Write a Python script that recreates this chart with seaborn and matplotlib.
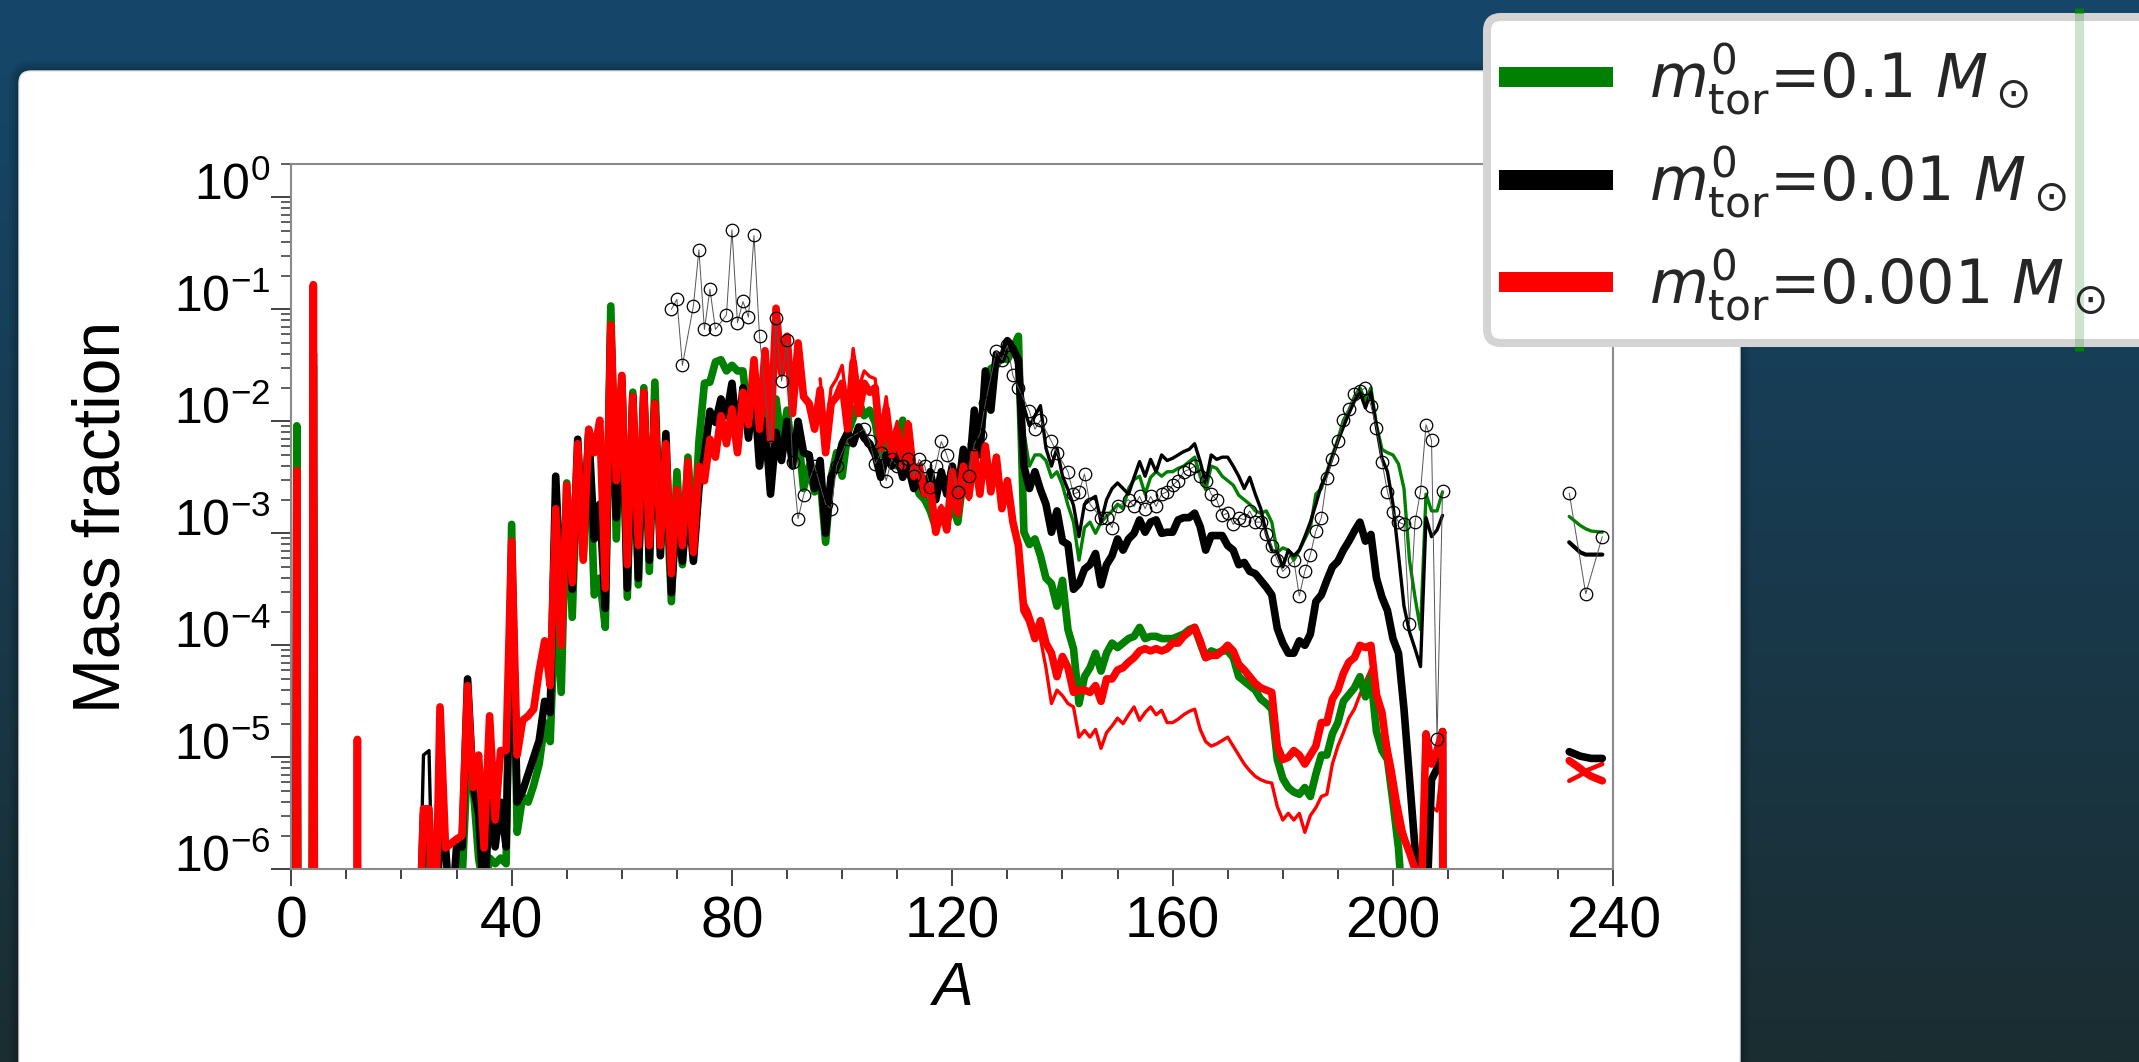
import numpy as np
import pandas as pd
import matplotlib
matplotlib.use("Agg")
import matplotlib.pyplot as plt
import seaborn as sns
import matplotlib.transforms as mtransforms
from matplotlib.patches import FancyBboxPatch
from matplotlib.lines import Line2D
from matplotlib.font_manager import FontProperties
from matplotlib.ticker import FixedLocator, MultipleLocator, NullFormatter

# ---------------------------------------------------------------- data
# mass number grid of the network output
mass_number = list(range(0, 211))

# log10 of the mass fraction; -30 / -7 mark nuclei that are (practically) absent
logX_01 = [  # m_tor = 0.1 Msun (thick green)
    -30, -2.04, -30, -30, -1.5, -30, -30, -30, -30, -30,
    -30, -30, -30, -30, -30, -30, -30, -30, -30, -30,
    -30, -30, -30, -7, -5.7, -5.75, -7, -7, -7, -7,
    -5.9, -6.1, -5.0, -5.25, -5.9, -6.2, -5.9, -5.95, -5.9, -5.95,
    -2.92, -5.67, -5.35, -5.4, -5.25, -5.06, -4.69, -4.86, -3.5, -4.42,
    -2.55, -3.75, -2.3, -3.0, -2.1, -3.55, -3.4, -3.84, -0.97, -3.05,
    -1.6, -3.57, -1.74, -3.46, -1.7, -3.34, -1.65, -3.11, -2.5, -3.61,
    -2.45, -3.28, -2.32, -3.1, -2.18, -1.66, -1.65, -1.47, -1.45, -1.55,
    -1.5, -1.55, -1.55, -2.0, -1.65, -2.0, -1.9, -2.6, -1.8, -2.2,
    -1.9, -2.3, -2.1, -2.6, -2.4, -2.63, -2.5, -3.08, -2.5, -2.28,
    -2.49, -2.11, -1.97, -1.82, -1.95, -1.9, -2.01, -2.3, -2.1, -2.3,
    -2.4, -1.99, -2.4, -2.5, -2.65, -2.7, -2.8, -2.95, -2.85, -2.9,
    -2.75, -2.9, -2.5, -2.4, -2.3, -2.2, -1.74, -1.53, -1.5, -1.41,
    -1.45, -1.35, -1.24, -2.99, -3.1, -3.05, -3.2, -3.4, -3.45, -3.65,
    -3.42, -3.86, -4.03, -4.52, -4.28, -4.2, -4.07, -4.23, -4.07, -3.98,
    -4.02, -3.98, -3.94, -3.92, -3.84, -3.94, -3.92, -3.92, -3.94, -3.94,
    -3.94, -3.92, -3.9, -3.86, -3.84, -3.98, -4.11, -4.05, -4.07, -4.05,
    -4.05, -4.11, -4.28, -4.32, -4.36, -4.4, -4.48, -4.52, -4.57, -5.02,
    -5.19, -5.27, -5.31, -5.33, -5.27, -5.35, -5.15, -4.98, -4.98, -4.79,
    -4.69, -4.5, -4.44, -4.38, -4.28, -4.46, -4.28, -4.77, -4.94, -5.02,
    -5.4, -5.81, -6.5, -7, -7, -7, -7, -7, -7, -7, -30,
]

logX_001 = [  # m_tor = 0.01 Msun (thick black)
    -30, -2.6, -30, -30, -1.39, -30, -30, -30, -30, -30,
    -30, -30, -30, -30, -30, -30, -30, -30, -30, -30,
    -30, -30, -30, -7, -5.5, -5.5, -7, -5.6, -5.8, -6.5,
    -5.8, -5.8, -4.3, -5.25, -5.5, -6.3, -5.4, -5.8, -5.4, -5.8,
    -3.2, -5.4, -5.3, -5.15, -5.0, -4.85, -4.5, -4.6, -2.49, -3.6,
    -2.75, -3.5, -2.16, -3.2, -2.1, -3.05, -2.74, -3.67, -1.2, -2.86,
    -1.65, -3.49, -1.78, -3.4, -1.75, -3.24, -1.84, -3.2, -2.11, -3.53,
    -2.8, -3.25, -2.7, -3.25, -2.6, -2.3, -1.91, -2.01, -1.8, -1.95,
    -1.66, -2.16, -1.7, -2.15, -1.7, -2.4, -2.0, -2.65, -2.1, -2.35,
    -2.0, -2.4, -2.0, -2.28, -2.3, -2.6, -2.35, -3.0, -2.5, -2.4,
    -2.2, -2.1, -2.2, -2.05, -2.15, -2.2, -2.3, -2.5, -2.3, -2.4,
    -2.3, -2.5, -2.4, -2.6, -2.5, -2.65, -2.45, -2.7, -2.45, -2.65,
    -2.4, -2.65, -2.25, -2.5, -1.9, -2.3, -1.55, -1.9, -1.4, -1.45,
    -1.28, -1.35, -1.45, -2.4, -2.6, -2.45, -2.61, -2.74, -2.99, -2.8,
    -3.07, -3.1, -3.5, -3.45, -3.32, -3.28, -3.18, -3.46, -3.28, -3.2,
    -3.05, -3.15, -3.05, -3.0, -2.88, -2.99, -2.9, -2.88, -3.0, -2.99,
    -2.99, -2.88, -2.86, -2.86, -2.82, -2.94, -3.15, -3.02, -3.02, -3.02,
    -3.11, -3.15, -3.28, -3.26, -3.34, -3.36, -3.42, -3.48, -3.55, -3.85,
    -3.98, -4.07, -4.07, -3.96, -4.0, -3.9, -3.61, -3.55, -3.42, -3.3,
    -3.25, -3.15, -3.07, -2.98, -2.9, -3.07, -3.01, -3.4, -3.57, -3.69,
    -3.94, -4.07, -4.57, -5.19, -5.81, -6.5, -6.5, -5.2, -5.1, -4.77, -30,
]

logX_0001 = [  # m_tor = 0.001 Msun (thick red)
    -30, -2.44, -30, -30, -0.78, -30, -30, -30, -30, -30,
    -30, -30, -4.84, -30, -30, -30, -30, -30, -30, -30,
    -30, -30, -30, -7, -5.46, -5.46, -7, -4.55, -5.81, -5.77,
    -5.73, -5.7, -4.36, -5.27, -4.98, -5.81, -4.63, -5.56, -4.94, -4.94,
    -3.07, -4.98, -4.67, -4.63, -4.57, -4.23, -3.96, -4.36, -2.78, -4.0,
    -2.57, -3.44, -2.2, -3.24, -2.07, -2.28, -1.99, -3.49, -1.14, -2.53,
    -1.59, -3.28, -1.78, -3.11, -1.74, -3.11, -1.84, -3.11, -2.2, -3.36,
    -2.61, -3.11, -2.36, -3.17, -2.4, -2.53, -2.16, -2.32, -1.95, -2.2,
    -1.89, -2.28, -1.74, -2.03, -1.45, -2.07, -1.37, -2.16, -0.99, -1.57,
    -1.24, -1.93, -1.3, -1.78, -1.84, -2.07, -1.72, -2.28, -1.84, -1.78,
    -1.66, -2.07, -1.47, -1.93, -1.66, -1.74, -1.7, -2.24, -1.89, -2.3,
    -2.07, -2.4, -2.03, -2.49, -2.4, -2.65, -2.57, -2.99, -2.78, -2.97,
    -2.45, -2.82, -2.4, -2.67, -2.28, -2.65, -2.22, -2.63, -2.32, -2.78,
    -2.53, -2.9, -3.11, -3.69, -3.78, -3.94, -3.78, -3.98, -4.07, -4.28,
    -4.1, -4.2, -4.42, -4.4, -4.4, -4.42, -4.36, -4.5, -4.3, -4.3,
    -4.22, -4.2, -4.15, -4.11, -4.05, -4.03, -4.05, -4.03, -4.05, -4.03,
    -3.98, -3.98, -3.92, -3.88, -3.84, -3.96, -4.11, -4.09, -4.09, -4.05,
    -4.0, -4.05, -4.17, -4.22, -4.28, -4.34, -4.38, -4.4, -4.42, -4.9,
    -5.02, -5.0, -4.94, -4.98, -5.06, -4.98, -4.9, -4.69, -4.69, -4.48,
    -4.4, -4.25, -4.15, -4.11, -4.0, -4.02, -4.0, -4.44, -4.6, -4.98,
    -5.27, -5.6, -5.72, -5.85, -6.0, -6.5, -4.79, -5.06, -4.94, -4.77, -30,
]

# second (thin) set of curves
thin_black_low_A = [23, 24, 25, 26]
thin_black_low = [-7, -4.98, -4.94, -7]

thin_gk_A = list(range(126, 210))
thin_green = [
    -1.74, -1.53, -1.5, -1.41,
    -1.45, -1.35, -1.3, -2.1, -2.4, -2.3, -2.3, -2.35, -2.5, -2.45,
    -2.57, -2.75, -2.9, -3.24, -2.95, -2.9, -3.0, -2.9, -2.85, -2.8,
    -2.74, -2.78, -2.6, -2.52, -2.49, -2.65, -2.5, -2.45, -2.49, -2.45,
    -2.45, -2.42, -2.4, -2.36, -2.32, -2.49, -2.61, -2.4, -2.42, -2.49,
    -2.53, -2.57, -2.66, -2.7, -2.74, -2.8, -2.82, -2.8, -2.9, -3.17,
    -3.13, -3.15, -3.24, -3.15, -3.05, -2.95, -2.65, -2.6, -2.45, -2.3,
    -2.16, -1.99, -1.9, -1.78, -1.7, -1.82, -1.7, -2.03, -2.25, -2.28,
    -2.3, -2.38, -2.6, -3.24, -3.57, -3.86, -2.65, -2.8, -2.8, -2.63,
]
thin_black = [
    -1.55, -1.9, -1.4, -1.45,
    -1.28, -1.35, -1.55, -1.87, -2.04, -1.95, -1.86, -2.24, -2.4, -2.24,
    -2.49, -2.61, -2.75, -3.03, -2.74, -2.7, -2.67, -2.9, -2.7, -2.6,
    -2.55, -2.6, -2.65, -2.5, -2.36, -2.49, -2.34, -2.45, -2.3, -2.35,
    -2.33, -2.3, -2.27, -2.25, -2.2, -2.36, -2.55, -2.3, -2.34, -2.32,
    -2.32, -2.4, -2.49, -2.6, -2.5, -2.65, -2.78, -3.0, -3.15, -3.17,
    -3.3, -3.15, -3.2, -3.15, -3.03, -2.9, -2.74, -2.57, -2.47, -2.32,
    -2.18, -2.05, -1.93, -1.82, -1.74, -1.88, -1.74, -2.05, -2.33, -2.45,
    -2.74, -3.19, -3.65, -3.88, -4.03, -4.19, -2.86, -3.03, -2.97, -2.84,
]

thin_red_A = list(range(96, 210))
thin_red = [
    -1.62, -2.1, -1.7, -1.62,
    -1.5, -1.9, -1.35, -1.7, -1.55, -1.6, -1.62, -2.1, -1.78, -2.2,
    -2.0, -2.3, -2.0, -2.45, -2.4, -2.62, -2.55, -2.95, -2.75, -2.95,
    -2.5, -2.8, -2.45, -2.7, -2.35, -2.6, -2.3, -2.6, -2.4, -2.7,
    -2.6, -2.85, -3.2, -3.6, -3.7, -3.85, -3.94, -4.2, -4.52, -4.4,
    -4.45, -4.52, -4.55, -4.82, -4.76, -4.82, -4.75, -4.92, -4.78, -4.72,
    -4.65, -4.7, -4.62, -4.55, -4.67, -4.6, -4.55, -4.62, -4.58, -4.69,
    -4.69, -4.66, -4.62, -4.59, -4.57, -4.75, -4.86, -4.9, -4.88, -4.85,
    -4.82, -4.9, -4.98, -5.06, -5.12, -5.17, -5.2, -5.22, -5.23, -5.44,
    -5.56, -5.5, -5.56, -5.5, -5.67, -5.52, -5.45, -5.35, -5.33, -5.06,
    -4.9, -4.78, -4.65, -4.57, -4.44, -4.32, -4.21, -4.4, -4.69, -4.85,
    -5.1, -5.4, -5.65, -5.85, -5.98, -6.4, -5.31, -5.44, -5.48, -5.04,
]

# actinides
actinide_A = [232, 234, 235, 236, 238]
act_thin_green = [-2.85, -2.93, -2.96, -2.98, -2.99]
act_thin_black = [-3.08, -3.17, -3.19, -3.19, -3.19]
act_black = [-4.95, -4.99, -5.0, -5.01, -5.01]
act_red = [-5.03, -5.1, -5.14, -5.17, -5.21]
act_thin_red = [-5.21, -5.16, -5.12, -5.1, -5.06]

# solar r-process abundances (A, log10 X)
solar_points = [
    (69, -1.00), (70, -0.91), (71, -1.50), (73, -0.97), (74, -0.47), (75, -1.18),
    (76, -0.82), (77, -1.18), (79, -1.05), (80, -0.29), (81, -1.12), (82, -0.93),
    (83, -1.07), (84, -0.34), (85, -1.24), (87, -2.23), (88, -1.08), (89, -1.64),
    (90, -1.27), (91, -2.36), (92, -2.87), (93, -2.66), (95, -2.40), (97, -2.74),
    (98, -2.78), (99, -2.40), (101, -2.16), (104, -2.07), (105, -2.18), (106, -2.38),
    (107, -2.28), (108, -2.53), (109, -2.34), (110, -2.40), (111, -2.40), (112, -2.34),
    (113, -2.49), (114, -2.34), (115, -2.40), (116, -2.59), (117, -2.40), (118, -2.18),
    (119, -2.30), (121, -2.63), (123, -2.49), (124, -2.20), (125, -2.12), (126, -1.84),
    (128, -1.37), (129, -1.45), (130, -1.32), (131, -1.59), (132, -1.70), (134, -1.91),
    (135, -2.07), (136, -1.99), (138, -2.18), (139, -2.28), (141, -2.45), (142, -2.65),
    (143, -2.63), (144, -2.47), (145, -2.74), (147, -2.86), (148, -2.86), (149, -2.95),
    (150, -2.76), (152, -2.70), (153, -2.76), (154, -2.67), (155, -2.78), (156, -2.67),
    (157, -2.76), (158, -2.65), (159, -2.63), (160, -2.57), (161, -2.53), (162, -2.45),
    (163, -2.43), (164, -2.40), (165, -2.49), (166, -2.53), (167, -2.65), (168, -2.70),
    (169, -2.84), (170, -2.82), (171, -2.92), (172, -2.86), (173, -2.88), (174, -2.80),
    (175, -2.90), (176, -2.90), (177, -3.01), (178, -3.11), (179, -3.24), (180, -3.34),
    (182, -3.24), (183, -3.56), (184, -3.34), (185, -3.19), (186, -2.98), (187, -2.86),
    (188, -2.51), (189, -2.34), (190, -2.18), (191, -1.99), (192, -1.89), (193, -1.76),
    (194, -1.73), (195, -1.70), (196, -1.86), (197, -2.06), (198, -2.36), (199, -2.63),
    (200, -2.81), (201, -2.90), (202, -2.92), (203, -3.81), (204, -2.90), (205, -2.63),
    (206, -2.03), (207, -2.17), (208, -4.84), (209, -2.62),
]
solar_actinides = [(232, -2.64), (235, -3.54), (238, -3.03)]

legend_labels = [
    r"$m^{0}_{\rm tor}$=0.1 $M_\odot$",
    r"$m^{0}_{\rm tor}$=0.01 $M_\odot$",
    r"$m^{0}_{\rm tor}$=0.001 $M_\odot$",
]
y_tick_exponents = [-6, -5, -4, -3, -2, -1, 0]
y_tick_labels = [r"$\mathregular{10^{-6}}$", r"$\mathregular{10^{-5}}$",
                 r"$\mathregular{10^{-4}}$", r"$\mathregular{10^{-3}}$",
                 r"$\mathregular{10^{-2}}$", r"$\mathregular{10^{-1}}$",
                 r"$\mathregular{10^{0}}$"]

# ---------------------------------------------------------------- style
sns.set_theme(style="white")
plt.rcParams["font.family"] = ["Liberation Sans", "DejaVu Sans"]
plt.rcParams["mathtext.fontset"] = "custom"
plt.rcParams["mathtext.rm"] = "Liberation Sans"
plt.rcParams["mathtext.it"] = "Liberation Sans:italic"
plt.rcParams["mathtext.bf"] = "Liberation Sans:bold"

GREEN, BLACK, RED = "#008000", "#000000", "#ff0000"
THICK, THIN = 5.5, 2.4

W, H = 2139, 1062
fig = plt.figure(figsize=(W / 100, H / 100), dpi=100)
ident = mtransforms.IdentityTransform()

# slide background
bg = fig.add_axes([0, 0, 1, 1], zorder=-10)
c_top = np.array([0x15, 0x47, 0x6b]) / 255
c_bot = np.array([0x1b, 0x2d, 0x31]) / 255
tt = np.linspace(0, 1, 256)[:, None]
grad = c_top[None, :] * (1 - tt) + c_bot[None, :] * tt
bg.imshow(grad[:, None, :], aspect="auto", extent=[0, 1, 0, 1], interpolation="bilinear")
bg.set_axis_off()

# white card with soft shadow
for d, a in [(10, 0.05), (7, 0.06), (4, 0.08), (2, 0.10)]:
    fig.add_artist(FancyBboxPatch((19 - d, -40), 1721 + 2 * d, (H - 71) + 40 + d,
                                  boxstyle=f"round,pad=0,rounding_size={12 + d}",
                                  transform=ident, facecolor="black", edgecolor="none",
                                  alpha=a, zorder=-6))
fig.add_artist(FancyBboxPatch((19, -40), 1721, (H - 71) + 40,
                              boxstyle="round,pad=0,rounding_size=12", transform=ident,
                              facecolor="white", edgecolor="#e4e4e4", lw=1, zorder=-5))

# ---------------------------------------------------------------- chart
ax = fig.add_axes([291.3 / W, (H - 869.3) / H, 1322 / W, 705 / H], zorder=0)
ax.set_facecolor("white")
ax.set_yscale("log")


def draw(a_vals, log_vals, **kw):
    frame = pd.DataFrame({"A": a_vals, "X": 10.0 ** np.asarray(log_vals, dtype=float)})
    sns.lineplot(data=frame, x="A", y="X", ax=ax, estimator=None, sort=False,
                 errorbar=None, legend=False, **kw)


# thin curves underneath
draw(thin_black_low_A, thin_black_low, color=BLACK, linewidth=THIN)
draw(thin_gk_A, thin_green, color=GREEN, linewidth=THIN)
draw(thin_gk_A, thin_black, color=BLACK, linewidth=THIN)
draw(thin_red_A, thin_red, color=RED, linewidth=THIN)
draw(actinide_A, act_thin_green, color=GREEN, linewidth=THIN)
draw(actinide_A, act_thin_black, color=BLACK, linewidth=THIN + 0.6)
draw(actinide_A, act_thin_red, color=RED, linewidth=THIN + 0.8)

# thick curves
draw(mass_number, logX_01, color=GREEN, linewidth=THICK)
draw(mass_number, logX_001, color=BLACK, linewidth=THICK)
draw(mass_number, logX_0001, color=RED, linewidth=THICK)
draw(actinide_A, act_black, color=BLACK, linewidth=THICK)
draw(actinide_A, act_red, color=RED, linewidth=THICK)

# solar r-process pattern
for pts in (solar_points, solar_actinides):
    sa, sv = zip(*pts)
    draw(list(sa), list(sv), color="#555555", linewidth=0.7, marker="o",
         markersize=9, markerfacecolor="none", markeredgecolor="black",
         markeredgewidth=0.9)

ax.set_xlim(0, 240)
ax.set_ylim(1e-6, 10 ** 0.295)
ax.xaxis.set_major_locator(MultipleLocator(40))
ax.xaxis.set_minor_locator(MultipleLocator(10))
ax.set_yticks([10.0 ** e for e in y_tick_exponents], labels=y_tick_labels)
minor_vals = [k * 10.0 ** e for e in range(-6, 0) for k in range(2, 10)] + [10 ** 0.295]
ax.yaxis.set_minor_locator(FixedLocator(minor_vals))
ax.yaxis.set_minor_formatter(NullFormatter())

for s in ax.spines.values():
    s.set_visible(True)
    s.set_color("#8a8a8a")
    s.set_linewidth(1.5)

ax.tick_params(which="both", direction="out", left=True, bottom=True,
               top=False, right=False, color="#333333")
ax.tick_params(axis="y", which="major", length=14.4, width=1.3, pad=0.5,
               labelsize=36, labelcolor="black")
ax.tick_params(axis="y", which="minor", length=7.2, width=1.1)
ax.tick_params(axis="x", which="major", length=12.5, width=1.3, pad=6.5,
               labelsize=41, labelcolor="black")
ax.tick_params(axis="x", which="minor", length=7.2, width=1.3)

ax.set_xlabel("A", fontsize=44, fontstyle="italic", color="black")
ax.xaxis.set_label_coords(0.5, -0.13)
ax.set_ylabel("Mass fraction", fontsize=47.5, color="black")
ax.yaxis.set_label_coords(-0.119, 0.5)

# y tick labels sit on their tick with the baseline
shift = mtransforms.ScaledTranslation(0, -3 / 100, fig.dpi_scale_trans)
for lab in ax.get_yticklabels():
    lab.set_verticalalignment("baseline")
    lab.set_transform(lab.get_transform() + shift)

# ---------------------------------------------------------------- legend
fig.add_artist(FancyBboxPatch((1487, H - 343), 720, 343 - 17,
                              boxstyle="round,pad=0,rounding_size=14", transform=ident,
                              facecolor="white", edgecolor="#d4d4d4", lw=5.8, zorder=10))
for y0, y1, a in [(8, 13, 1.0), (13, 347, 0.2), (347, 351, 1.0)]:
    fig.add_artist(Line2D([2078.5, 2078.5], [H - y0, H - y1], transform=ident,
                          color=GREEN, lw=6.5, alpha=a, solid_capstyle="butt", zorder=11))

handles = [Line2D([], [], color=c, lw=14.4, solid_capstyle="butt")
           for c in (GREEN, BLACK, RED)]
leg_font = FontProperties(family="DejaVu Sans", size=43.5, math_fontfamily="dejavusans")
leg = fig.legend(handles, legend_labels, loc="upper left",
                 bbox_to_anchor=(1499 / W, 1 - 42 / H), frameon=False, prop=leg_font,
                 handlelength=1.88, handletextpad=0.6, labelspacing=0.45,
                 borderpad=0, borderaxespad=0)
leg.set_zorder(12)

fig.savefig("out.png", dpi=100)
